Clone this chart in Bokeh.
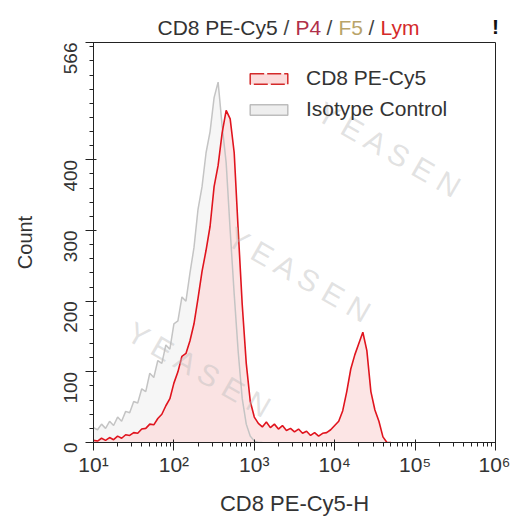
import math
import numpy as np
from bokeh.plotting import figure
from bokeh.layouts import column
from bokeh.core.properties import value
from bokeh.models import (ColumnDataSource, FixedTicker, Label, Legend, LegendItem, Range1d,
                          LogAxis)
from bokeh.embed import file_html
from bokeh.resources import INLINE

# ---------------- data ----------------
# histogram bin centres, log10 of CD8 PE-Cy5-H intensity
cd8_log_bins = np.round(np.arange(1.0, 4.701, 0.05), 2)
cd8_counts = [3, 2, 6, 3, 7, 4, 9, 6, 11, 10,
              14, 13, 19, 20, 26, 25, 34, 40, 52, 62,
              84, 100, 122, 126, 144, 168, 204, 242, 272, 306,
              362, 392, 438, 470, 458, 410, 300, 195, 112, 58,
              36, 27, 22, 29, 21, 26, 19, 24, 17, 20,
              15, 19, 13, 16, 10, 14, 9, 13, 14, 18,
              24, 30, 45, 72, 104, 124, 140, 156, 130, 72,
              46, 30, 8, 0, 0]

iso_log_bins = np.round(np.arange(1.0, 3.101, 0.05), 2)
iso_counts = [21, 18, 26, 20, 30, 24, 36, 30, 44, 42,
              58, 56, 76, 72, 98, 92, 116, 112, 138, 132,
              168, 172, 206, 200, 240, 276, 330, 362, 410, 440,
              488, 510, 448, 396, 300, 210, 128, 62, 26, 9,
              2, 0, 0]

x_tick_values = [1e1, 1e2, 1e3, 1e4, 1e5, 1e6]
x_tick_labels = ["10¹", "10²", "10³", "10⁴", "10⁵", "10⁶"]
y_tick_values = [0, 100, 200, 300, 400, 566]
y_max = 566

series_names = ["CD8 PE-Cy5", "Isotype Control"]
title_parts = ["CD8 PE-Cy5", "/", "P4", "/", "F5", "/", "Lym"]

# ---------------- styling ----------------
FONT = "Liberation Sans"
TXT = "#333333"
RED = "#e0141e"
PINK = "#fbdcdc"
GRAY_LINE = "#c4c4c4"
GRAY_FILL = "#f0f0f0"

W = 510
TOP = 42          # frame top (page px)
FL, FR, FB = 93, 495, 442
H = 522


def px_x(px):
    return 10 ** (1 + 5 * (px - FL) / (FR - FL))


def px_y(py):
    return y_max * (FB - py) / (FB - TOP)


# ---------------- title strip (sits under the transparent top border of the plot) ----------------
# its frame is aligned with the plot frame by the column layout, so x is in page px over FL..FR
t = figure(width=W, height=TOP, x_range=Range1d(FL, FR), y_range=Range1d(TOP, 0),
           output_backend="svg", toolbar_location=None, min_border=0)
t.axis.visible = False
t.grid.visible = False
t.outline_line_color = None
t.background_fill_color = "white"
t.border_fill_color = "white"
title_x = [157, 283, 295, 326, 338, 368, 380]
title_colors = ["#333333", "#444444", "#b0304a", "#444444", "#b9a46a", "#444444", "#d42a2a"]
t.text(x=title_x, y=[27] * len(title_x), text=title_parts, text_color=title_colors,
       text_font=value(FONT), text_font_size=value("21px"),
       text_align="left", text_baseline="alphabetic")

# ---------------- main plot ----------------
p = figure(width=W, height=H, x_axis_type="log",
           x_range=Range1d(10, 1e6), y_range=Range1d(0, y_max),
           output_backend="svg", toolbar_location=None,
           min_border_left=FL, min_border_right=W - FR,
           min_border_top=TOP, min_border_bottom=H - FB)
p.margin = (-TOP, 0, 0, 0)
p.background_fill_color = "white"
p.border_fill_color = None
p.outline_line_color = "#222222"
p.outline_line_width = 1
p.xgrid.visible = False
p.ygrid.visible = False

iso_src = ColumnDataSource(dict(x=10 ** iso_log_bins, y=iso_counts))
cd8_src = ColumnDataSource(dict(x=10 ** cd8_log_bins, y=cd8_counts))

p.varea(x="x", y1=0, y2="y", source=iso_src, fill_color=GRAY_FILL, fill_alpha=0.6)
p.varea(x="x", y1=0, y2="y", source=cd8_src, fill_color=PINK, fill_alpha=0.75)
p.line(x="x", y="y", source=iso_src, line_color=GRAY_LINE, line_width=1.5)
p.line(x="x", y="y", source=cd8_src, line_color=RED, line_width=1.6)

# legend swatches (renderers with a single NaN entry, only used for the legend)
nan = np.array([np.nan])
r_leg1 = p.quad(left=nan, right=nan, top=nan, bottom=nan, fill_color=PINK,
                line_color="#d42a2a", line_width=1.5, line_dash="14 3")
r_leg2 = p.quad(left=nan, right=nan, top=nan, bottom=nan, fill_color="#eeeeee",
                line_color="#bdbdbd", line_width=1.5)
legend = Legend(items=[LegendItem(label=series_names[0], renderers=[r_leg1]),
                       LegendItem(label=series_names[1], renderers=[r_leg2])],
                location=(245 - FL, FB - 121), orientation="vertical",
                padding=0, margin=0, spacing=7, glyph_width=47, glyph_height=13,
                label_standoff=14, label_text_font=FONT,
                label_text_font_size="21px", label_text_color=TXT,
                border_line_alpha=0, background_fill_alpha=0)
p.add_layout(legend)

# axes
p.xaxis.ticker = FixedTicker(ticks=x_tick_values,
                             minor_ticks=[m * d for d in x_tick_values[:-1] for m in range(2, 10)])
p.xaxis.major_label_overrides = {v: l for v, l in zip(x_tick_values, x_tick_labels)}
p.yaxis.ticker = FixedTicker(ticks=y_tick_values, minor_ticks=list(range(0, y_max, 20)))
p.yaxis.major_label_orientation = math.pi / 2

for ax in (p.xaxis[0], p.yaxis[0]):
    ax.axis_line_color = "#222222"
    ax.major_tick_line_color = "#222222"
    ax.minor_tick_line_color = "#222222"
    ax.major_tick_out = 8
    ax.major_tick_in = 3
    ax.minor_tick_out = 4
    ax.minor_tick_in = 0
    ax.major_label_text_font = FONT
    ax.major_label_text_color = TXT
    ax.axis_label_text_font = FONT
    ax.axis_label_text_color = TXT
    ax.axis_label_text_font_style = "normal"

p.xaxis.axis_label = "CD8 PE-Cy5-H"
p.xaxis.axis_label_text_font_size = "22px"
p.xaxis.major_label_text_font_size = "21px"
p.xaxis.major_label_standoff = 2
p.xaxis.axis_label_standoff = 12

p.yaxis.axis_label = "Count"
p.yaxis.axis_label_text_font_size = "20px"
p.yaxis.major_label_text_font_size = "19px"
p.yaxis.major_label_standoff = 15
p.yaxis.axis_label_standoff = 19

# the "!" marker above the top-right corner, as the single label of a bare top axis
bang_tick = 0.999e6
top_ax = LogAxis(ticker=FixedTicker(ticks=[bang_tick], minor_ticks=[]),
                 major_label_overrides={bang_tick: "!"},
                 axis_line_color=None, major_tick_line_color=None, minor_tick_line_color=None,
                 major_tick_out=0, major_tick_in=0, major_label_standoff=5,
                 major_label_text_font=FONT, major_label_text_font_size="21px",
                 major_label_text_font_style="bold", major_label_text_color="#111111")
p.add_layout(top_ax, "above")

# faint watermark
for wx, wy in [(300, 275), (390, 150), (200, 370)]:
    p.add_layout(Label(x=px_x(wx), y=px_y(wy), text="Y E A S E N", text_font=FONT,
                       text_font_size="30px", text_color="#bdbdbd", text_alpha=0.45,
                       angle=-30, angle_units="deg",
                       text_align="center", text_baseline="middle"))

open("out.html", "w").write(file_html(column(t, p), INLINE))
